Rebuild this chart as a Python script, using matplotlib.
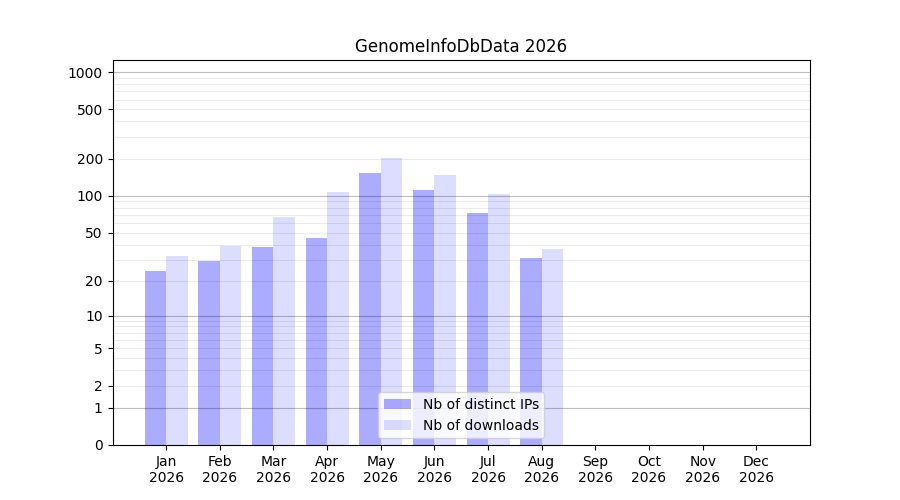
import numpy as np
import matplotlib
matplotlib.use('Agg')
import matplotlib.pyplot as plt

months = ['Jan', 'Feb', 'Mar', 'Apr', 'May', 'Jun', 'Jul', 'Aug', 'Sep', 'Oct', 'Nov', 'Dec']
year = '2026'
# Aug is the last month with data
nb_ips = [24, 29, 38, 45, 153, 111, 72, 31]
nb_downloads = [32, 39, 67, 107, 203, 148, 103, 37]
yticks = [0, 1, 2, 5, 10, 20, 50, 100, 200, 500, 1000]

def fwd(v):
    return np.log10(np.asarray(v, dtype=float) + 1)

def inv(v):
    return 10 ** np.asarray(v, dtype=float) - 1

fig, ax = plt.subplots(figsize=(9, 5), dpi=100)
ax.set_title('GenomeInfoDbData ' + year)

x = np.arange(len(months))
n = len(nb_ips)
ax.bar(x[:n] - 0.2, nb_ips, width=0.4, color='#0000ff', alpha=0.33, linewidth=0, label='Nb of distinct IPs')
ax.bar(x[:n] + 0.2, nb_downloads, width=0.4, color='#0000ff', alpha=0.135, linewidth=0, label='Nb of downloads')

ax.set_yscale('function', functions=(fwd, inv))
ax.set_ylim(0, 1250)
ax.set_yticks(yticks)
ax.set_yticklabels([str(t) for t in yticks])
ax.minorticks_off()

# grid: decades darker, sub-decades lighter, both drawn over the bars
for d in [1, 10, 100]:
    for k in range(2, 10):
        ax.axhline(k * d, color='#000000', alpha=0.08, linewidth=0.8, zorder=1.5)
for d in [1, 10, 100, 1000]:
    ax.axhline(d, color='#000000', alpha=0.25, linewidth=0.8, zorder=1.5)

ax.set_xlim(-1, len(months))
ax.set_xticks(x)
ax.set_xticklabels([m + '\n' + year for m in months])

ax.legend(loc='lower center')

plt.savefig('out.png')
